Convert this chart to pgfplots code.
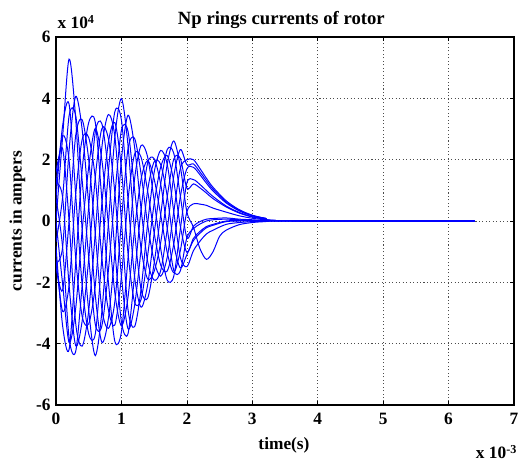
\documentclass[border=0pt]{standalone}
\usepackage{fontspec}
\setmainfont{Liberation Serif}
\usepackage{pgfplots}
\pgfplotsset{compat=1.18}
\newcommand{\lbl}{\fontsize{13}{15}\selectfont\bfseries}
\pgfplotsset{ring/.style={blue, line width=0.75pt, smooth, no markers}}

\begin{document}
\begin{tikzpicture}
\path[use as bounding box] (-42pt,-43.5pt) rectangle (348pt,303.75pt);
\begin{axis}[
  scale only axis, width=343.5pt, height=276pt,
  at={(0,0)}, anchor=south west,
  xmin=0, xmax=7, ymin=-6, ymax=6,
  xtick={0,1,2,3,4,5,6,7}, xticklabels={0,1,2,3,4,5,6,7},
  ytick={-6,-4,-2,0,2,4,6}, yticklabels={-6,-4,-2,0,2,4,6},
  grid=major,
  major grid style={black!70, line width=0.45pt, dash pattern=on 0.8pt off 1.8pt},
  axis line style={black, line width=1pt},
  tick style={black, line width=0.5pt}, major tick length=3pt,
  tick label style={font=\lbl},
  xticklabel style={yshift=-2.5pt},
  yticklabel style={xshift=-0.5pt},
]
% ring 1
\addplot[ring] coordinates {(0,0)(0.1,2.71)(0.2,5.28)(0.3,3.36)(0.4,-0.3)(0.5,-2.92)(0.6,-4.39)(0.7,-2.98)(0.8,-0.1)(0.9,2.75)(1.0,3.99)(1.1,2.48)(1.2,-0.3)(1.3,-2.23)(1.4,-2.52)(1.5,-1.38)(1.6,0.2)(1.7,1.85)(1.8,2.61)(1.9,1.78)(2.0,0.3)(2.1,-0.2)(2.2,-0.9)(2.3,-1.25)(2.4,-1.0)(2.5,-0.5)(2.6,-0.3)(2.8,-0.12)(3.0,-0.05)(3.2,-0.02)(3.5,0)(6.4,0)};
% ring 2
\addplot[ring] coordinates {(0,0.75)(0.1,3.09)(0.2,3.81)(0.3,0.89)(0.4,-2.1)(0.5,-3.68)(0.6,-3.69)(0.7,-1.23)(0.8,1.6)(0.9,3.57)(1.0,3.29)(1.1,0.73)(1.2,-1.8)(1.3,-2.81)(1.4,-2.09)(1.5,-0.42)(1.6,1.2)(1.7,2.33)(1.8,2.21)(1.9,0.82)(2.0,-0.55)(2.1,-0.17)(2.2,-0.02)(2.3,0.06)(2.4,0.08)(2.6,0.10)(2.8,0.06)(3.0,0.04)(3.2,0.01)(3.5,0.01)(6.4,0)};
% ring 3
\addplot[ring] coordinates {(0,1.17)(0.1,2.78)(0.2,1.98)(0.3,-1.18)(0.4,-3.11)(0.5,-3.35)(0.6,-2.11)(0.7,0.54)(0.8,2.55)(0.9,3.21)(1.0,1.71)(1.1,-1.04)(1.2,-2.64)(1.3,-2.56)(1.4,-1.14)(1.5,0.57)(1.6,1.76)(1.7,2.13)(1.8,1.29)(1.9,-0.17)(2.0,-1.02)(2.1,-0.57)(2.2,-0.34)(2.3,-0.18)(2.4,-0.11)(2.6,0)(2.8,0.01)(3.0,0.01)(3.2,0)(3.5,0.01)(6.4,0)};
% ring 4
\addplot[ring] coordinates {(0,1.58)(0.1,2.37)(0.2,0)(0.3,-3.32)(0.4,-4.08)(0.5,-2.92)(0.6,-0.4)(0.7,2.38)(0.8,3.47)(0.9,2.75)(1.0,0)(1.1,-2.88)(1.2,-3.45)(1.3,-2.23)(1.4,-0.1)(1.5,1.58)(1.6,2.3)(1.7,1.85)(1.8,0.3)(1.9,-1.18)(2.0,-1.49)(2.1,-0.97)(2.2,-0.66)(2.3,-0.42)(2.4,-0.3)(2.6,-0.11)(2.8,-0.05)(3.0,-0.02)(3.2,-0.01)(3.5,0.01)(6.4,0)};
% ring 5
\addplot[ring] coordinates {(0,1.24)(0.1,0.79)(0.2,-2.09)(0.3,-4.06)(0.4,-3.26)(0.5,-1.24)(0.6,1.41)(0.7,3.01)(0.8,2.69)(0.9,0.91)(1.0,-1.81)(1.1,-3.51)(1.2,-2.77)(1.3,-0.94)(1.4,0.99)(1.5,1.93)(1.6,1.84)(1.7,0.81)(1.8,-0.75)(1.9,-1.53)(2.0,-1.10)(2.1,-0.64)(2.2,-0.40)(2.3,-0.22)(2.4,-0.14)(2.6,-0.02)(2.8,0)(3.0,0)(3.2,0)(3.5,0.01)(6.4,0)};
% ring 6
\addplot[ring] coordinates {(0,0.75)(0.1,-0.83)(0.2,-3.81)(0.3,-4.26)(0.4,-2.1)(0.5,0.48)(0.6,2.89)(0.7,3.18)(0.8,1.6)(0.9,-0.96)(1.0,-3.29)(1.1,-3.68)(1.2,-1.8)(1.3,0.37)(1.4,1.89)(1.5,2.03)(1.6,1.2)(1.7,-0.24)(1.8,-1.61)(1.9,-1.63)(2.0,-0.55)(2.1,-0.25)(2.2,-0.1)(2.3,0)(2.4,0.04)(2.6,0.06)(2.8,0.04)(3.0,0.02)(3.2,0.01)(3.5,0)(6.4,0)};
% ring 7
\addplot[ring] coordinates {(0,0)(0.1,-2.03)(0.2,-3.96)(0.3,-2.87)(0.4,-0.3)(0.5,1.76)(0.6,3.02)(0.7,2.0)(0.8,-0.1)(0.9,-2.36)(1.0,-3.42)(1.1,-2.5)(1.2,-0.3)(1.3,1.36)(1.4,1.97)(1.5,1.37)(1.6,0.2)(1.7,-1.03)(1.8,-1.68)(1.9,-0.97)(2.0,0.3)(2.1,0.56)(2.2,0.55)(2.3,0.51)(2.4,0.42)(2.6,0.29)(2.8,0.17)(3.0,0.09)(3.2,0.04)(3.5,0.01)(6.4,0)};
% ring 8
\addplot[ring] coordinates {(0,-0.83)(0.1,-3.40)(0.2,-4.19)(0.3,-1.4)(0.4,1.68)(0.5,3.21)(0.6,3.22)(0.7,0.72)(0.8,-1.97)(0.9,-3.93)(1.0,-3.62)(1.1,-1.22)(1.2,1.35)(1.3,2.46)(1.4,2.09)(1.5,0.67)(1.6,-0.9)(1.7,-1.93)(1.8,-1.80)(1.9,-0.27)(2.0,1.24)(2.1,1.35)(2.2,1.19)(2.3,0.99)(2.4,0.8)(2.6,0.49)(2.8,0.28)(3.0,0.14)(3.2,0.07)(3.5,0.01)(6.4,0)};
% ring 9
\addplot[ring] coordinates {(0,-1.24)(0.1,-2.94)(0.2,-2.09)(0.3,0.84)(0.4,2.66)(0.5,2.72)(0.6,1.41)(0.7,-1.18)(0.8,-2.89)(0.9,-3.39)(1.0,-1.81)(1.1,0.68)(1.2,2.17)(1.3,2.08)(1.4,0.99)(1.5,-0.39)(1.6,-1.44)(1.7,-1.63)(1.8,-0.75)(1.9,0.79)(2.0,1.70)(2.1,1.75)(2.2,1.51)(2.3,1.23)(2.4,0.98)(2.6,0.59)(2.8,0.33)(3.0,0.17)(3.2,0.08)(3.5,0.01)(6.4,0)};
% ring 10
\addplot[ring] coordinates {(0,-1.5)(0.1,-2.26)(0.2,0)(0.3,2.77)(0.4,3.3)(0.5,2.0)(0.6,-0.4)(0.7,-2.85)(0.8,-3.5)(0.9,-2.62)(1.0,0)(1.1,2.35)(1.2,2.7)(1.3,1.54)(1.4,-0.1)(1.5,-1.31)(1.6,-1.8)(1.7,-1.18)(1.8,0.3)(1.9,1.71)(2.0,2.0)(2.1,2.0)(2.2,1.71)(2.3,1.39)(2.4,1.1)(2.6,0.66)(2.8,0.37)(3.0,0.19)(3.2,0.09)(3.5,0.01)(6.4,0)};
% ring 11
\addplot[ring] coordinates {(0,-1.37)(0.1,-0.87)(0.2,2.31)(0.3,4.06)(0.4,2.98)(0.5,0.52)(0.6,-2.4)(0.7,-3.95)(0.8,-3.19)(0.9,-1.01)(1.0,2.0)(1.1,3.45)(1.2,2.43)(1.3,0.40)(1.4,-1.31)(1.5,-1.93)(1.6,-1.62)(1.7,-0.27)(1.8,1.46)(1.9,2.33)(2.0,1.84)(2.1,1.86)(2.2,1.6)(2.3,1.31)(2.4,1.04)(2.6,0.62)(2.8,0.35)(3.0,0.18)(3.2,0.09)(3.5,0.01)(6.4,0)};
% ring 12
\addplot[ring] coordinates {(0,-0.68)(0.1,0.75)(0.2,3.43)(0.3,3.45)(0.4,1.32)(0.5,-1.19)(0.6,-3.36)(0.7,-3.43)(0.8,-1.63)(0.9,0.86)(1.0,2.96)(1.1,2.93)(1.2,1.05)(1.3,-0.90)(1.4,-1.89)(1.5,-1.64)(1.6,-0.7)(1.7,0.79)(1.8,2.02)(1.9,2.04)(2.0,1.07)(2.1,1.21)(2.2,1.08)(2.3,0.91)(2.4,0.73)(2.6,0.46)(2.8,0.26)(3.0,0.13)(3.2,0.06)(3.5,0.01)(6.4,0)};
\end{axis}
% titles and scale factors
\node[anchor=base, inner sep=0, font=\fontsize{14}{16}\selectfont\bfseries] at (169pt,285.5pt) {Np rings currents of rotor};
\node[anchor=base west, inner sep=0, font=\lbl] at (1pt,282pt) {x 10\textsuperscript{4}};
\node[anchor=base, inner sep=0, font=\lbl] at (171pt,-33.5pt) {time(s)};
\node[anchor=base east, inner sep=0, font=\lbl] at (346pt,-40.5pt) {x 10\textsuperscript{-3}};
\node[anchor=center, inner sep=0, rotate=90, font=\lbl] at (-29pt,138pt) {currents in ampers};
\end{tikzpicture}
\end{document}
